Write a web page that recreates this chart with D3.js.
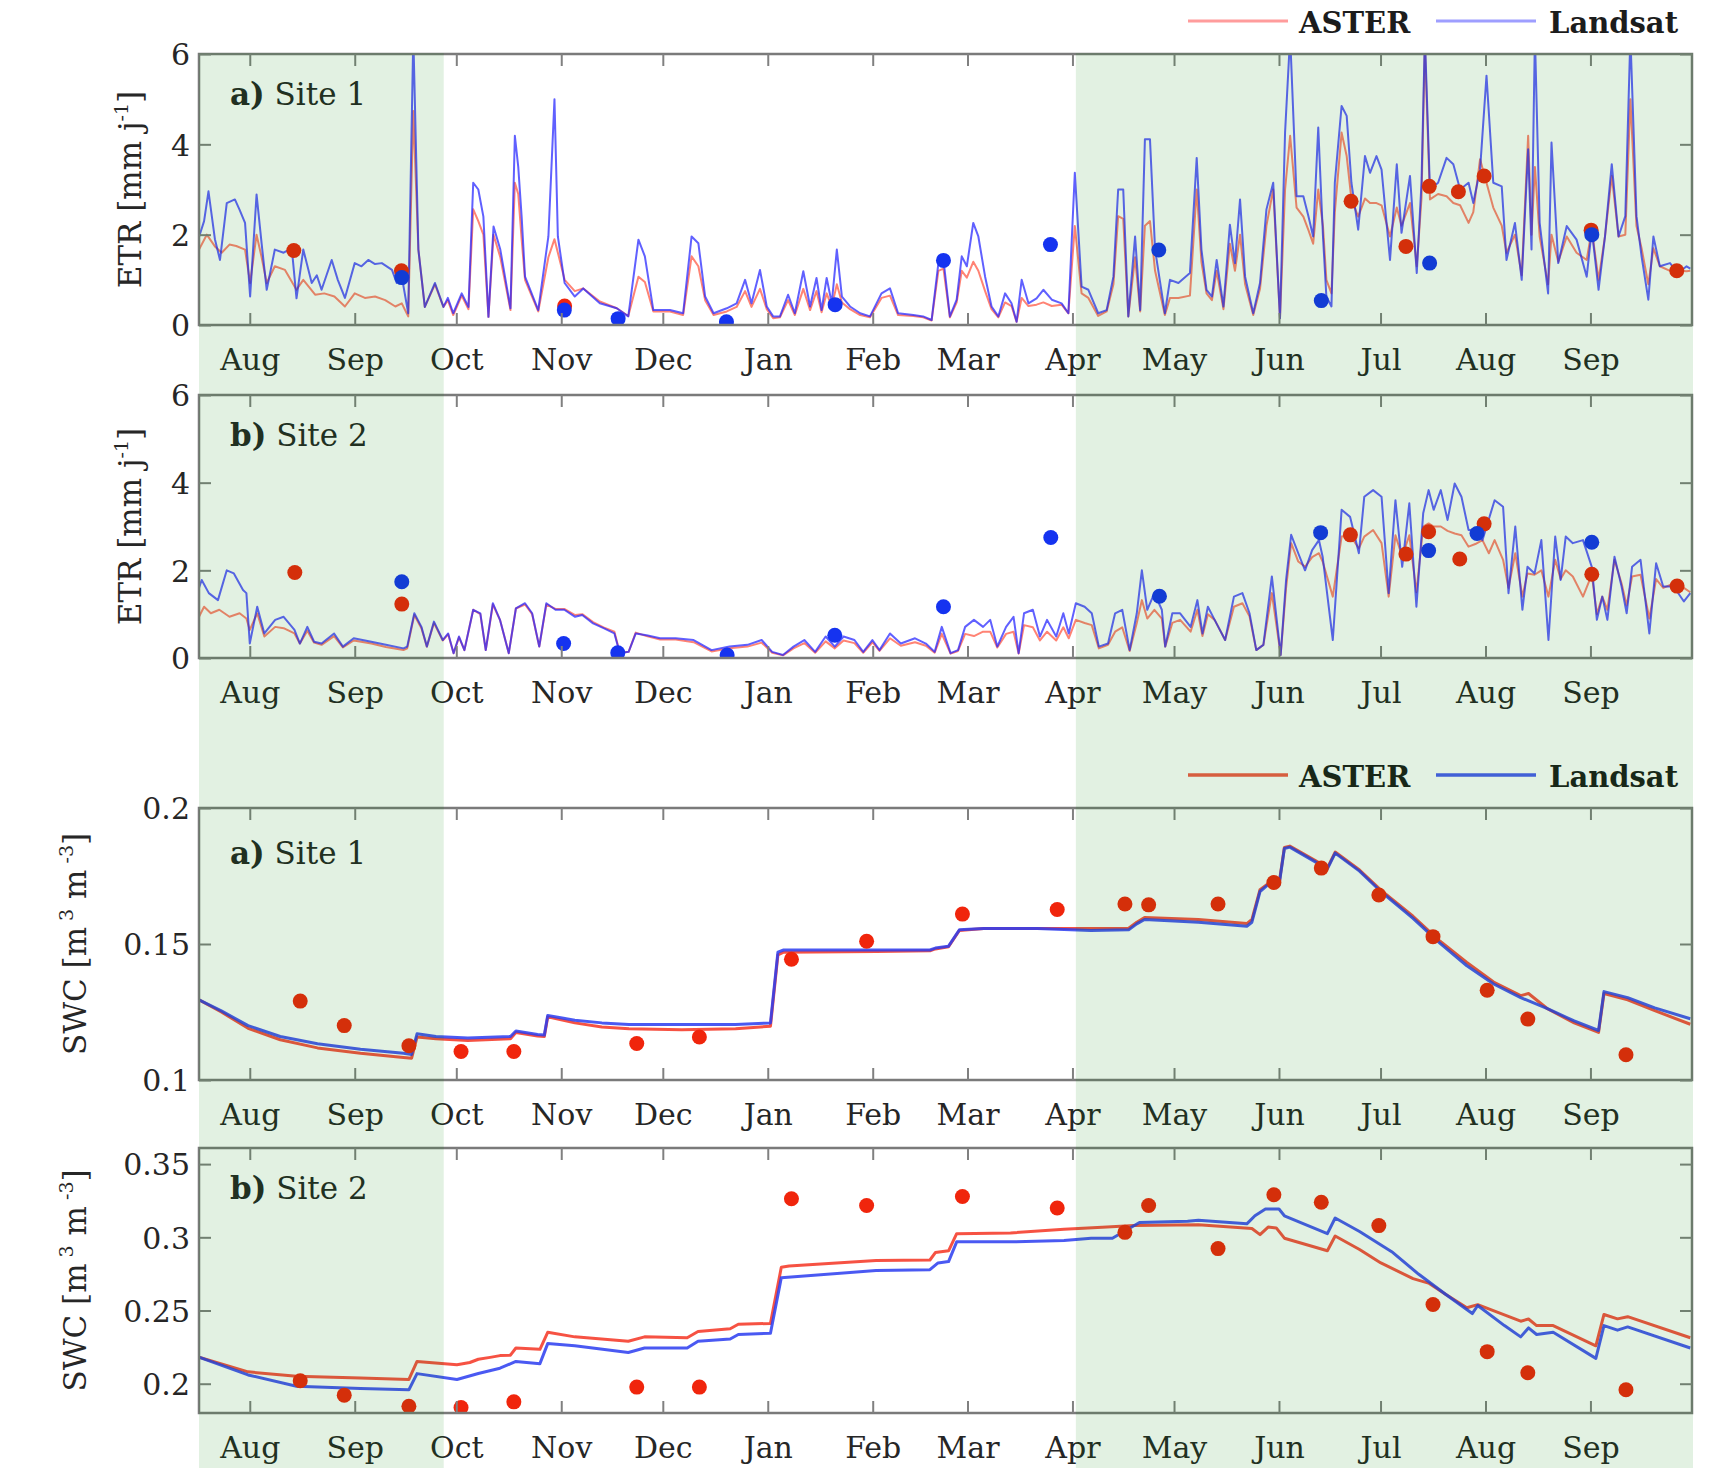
<!DOCTYPE html>
<html>
<head>
<meta charset="utf-8">
<script src="https://cdn.jsdelivr.net/npm/d3@7"></script>
<style>
  html, body { margin: 0; padding: 0; background: #fff; }
  svg { display: block; font-family: "DejaVu Serif", serif; }
</style>
</head>
<body>
<svg id="chart" width="1725" height="1468"></svg>
<script>
// ---- Time frame (day offsets are counted from 17 Jul 2012) ----
const DAY = 864e5;
const seriesStart = Date.UTC(2012, 6, 17);
const axisStart = new Date(Date.UTC(2012, 6, 17));
const axisEnd = new Date(Date.UTC(2013, 9, 1));
const growingSeasons = [["2012-07-17", "2012-09-27"], ["2013-04-02", "2013-10-01"]];

// ---- Tick values ----
const etrTicks = [0, 2, 4, 6];
const swcSite1Ticks = [0.1, 0.15, 0.2];
const swcSite2Ticks = [0.2, 0.25, 0.3, 0.35];
const legendLabels = ["ASTER", "Landsat"];

// ---- ETR, site 1 [day, mm/day] ----
const etrSite1Landsat = [[0,1.95],[1.5,2.3],[2.8,2.96],[4.7,1.9],[6.2,1.44],[8.2,2.7],[10.6,2.78],[12,2.55],[13.6,2.26],[15.1,0.63],[17,2.89],[18.5,1.8],[20,0.78],[22.4,1.67],[25,1.6],[27.4,1.7],[28.8,0.59],[30.8,1.67],[33.3,0.93],[34.8,1.1],[36.2,0.78],[39.2,1.44],[41,1.0],[43.1,0.6],[46,1.37],[48,1.3],[50,1.44],[52,1.35],[54,1.37],[57,1.22],[58.4,0.93],[59.9,1.07],[61.8,0.26],[63.3,6.4],[64.8,1.67],[66.7,0.4],[69.7,0.93],[72.2,0.4],[73.5,0.6],[75.1,0.26],[77.6,0.7],[79.6,0.4],[81,3.15],[82.5,3.0],[84,2.4],[85.5,0.18],[87,2.18],[89,1.67],[92,0.37],[93.3,4.19],[94.3,3.5],[95.3,2.4],[96.3,1.07],[100.2,0.33],[103.2,1.96],[105,5.0],[106,1.96],[108,0.93],[111,0.63],[113.5,0.81],[118.4,0.48],[123.4,0.37],[126.8,0.19],[129.8,1.89],[131.7,1.52],[134.2,0.33],[139.1,0.33],[143,0.26],[145.5,1.96],[147.5,1.81],[149.5,0.63],[152,0.26],[155.9,0.37],[158.8,0.48],[161.3,1.0],[163.2,0.48],[165.7,1.22],[167.7,0.41],[169.6,0.19],[171.6,0.19],[174,0.67],[176,0.26],[178.5,1.19],[180.5,0.41],[182.4,1.04],[183.9,0.33],[185.4,1.04],[186.9,0.48],[188.4,1.67],[189.9,0.63],[192.3,0.41],[195.3,0.26],[198.2,0.19],[201.6,0.7],[204.1,0.81],[206.5,0.26],[211,0.22],[213.9,0.19],[216.4,0.11],[218.4,1.37],[219.9,1.44],[221.8,0.19],[223.8,0.56],[225.3,1.52],[226.8,1.3],[228.7,2.26],[230.2,1.96],[232.2,1.07],[234.1,0.41],[236.1,0.19],[238.1,0.7],[240,0.48],[241.5,0.07],[243,1.0],[245,0.48],[247.4,0.59],[249.4,0.78],[251.9,0.56],[254.8,0.48],[256.8,0.26],[258.7,3.37],[260.7,0.85],[262.7,0.78],[265.6,0.26],[268.1,0.33],[270.1,1.07],[271.5,3.0],[273,3.0],[274.5,0.19],[276.5,1.96],[278,0.33],[279.4,4.11],[280.9,4.11],[282.4,1.67],[285.3,0.26],[286.8,1.0],[289.3,0.93],[292.7,1.15],[294.7,3.7],[296.1,1.67],[297.6,0.78],[299.2,0.63],[300.6,1.44],[302.6,0.41],[304.5,2.22],[306,1.37],[307.5,2.78],[309,1.07],[311.4,0.26],[313.4,0.93],[315.3,2.56],[317.3,3.15],[319.3,0.15],[320.8,4.26],[322.3,6.4],[324.2,2.85],[326.2,2.85],[327.7,2.41],[329.1,1.96],[330.6,4.37],[332,1.96],[333,0.63],[334.5,0.41],[335.5,3.15],[337.5,4.85],[339,4.63],[340.4,3.15],[342.4,2.11],[344.4,3.74],[345.9,3.37],[347.8,3.74],[349.3,3.44],[351.8,1.44],[353.8,3.56],[355.2,2.04],[357.7,3.3],[359.7,1.15],[361.1,3.15],[362.1,6.4],[363.6,3.0],[366,3.15],[368.5,3.7],[370.5,3.56],[372.5,3.0],[375,3.15],[376.4,2.7],[378.4,3.44],[380.3,5.52],[382.3,3.15],[384.8,3.07],[386.2,1.44],[388.7,2.26],[390.7,1.0],[392.6,3.89],[393.6,1.67],[394.6,6.4],[396,2.26],[398.5,0.7],[399.5,4.04],[401.5,1.37],[404,2.19],[406.9,1.89],[409.9,1.07],[411.4,2.11],[413.4,0.78],[415.3,1.96],[417.3,3.56],[419.3,1.96],[421.3,2.41],[422.8,6.4],[424.6,2.41],[426.1,1.52],[428.1,0.56],[429.6,1.96],[431.5,1.3],[434.5,1.37],[436.9,1.15],[439.4,1.3],[440.5,1.25]];
const etrSite1Aster = [[0,1.67],[2.3,2.0],[4.7,1.74],[6.7,1.6],[9,1.78],[11,1.75],[13.6,1.67],[15.1,0.93],[17,2.0],[18.5,1.5],[20,0.93],[22.4,1.3],[25.4,1.22],[28.8,0.78],[30.8,1.0],[34.3,0.67],[37,0.7],[40,0.63],[43.1,0.41],[46,0.7],[49,0.6],[52,0.63],[55,0.55],[58,0.41],[59.9,0.48],[61.8,0.19],[63.3,4.74],[64.8,1.67],[66.7,0.4],[69.7,0.9],[72.2,0.4],[73.5,0.55],[75.1,0.22],[77.6,0.65],[79.6,0.35],[81,2.56],[82.5,2.3],[84,2.0],[85.5,0.18],[87,2.0],[89,1.5],[92,0.33],[93.3,3.15],[94.3,2.9],[95.3,1.9],[96.3,1.0],[100.2,0.3],[103.2,1.5],[105,1.9],[106,1.6],[108,1.0],[111,0.75],[113.5,0.81],[118.4,0.52],[123.4,0.37],[126.8,0.2],[129.8,1.07],[131.7,0.95],[134.2,0.3],[139.1,0.3],[143,0.22],[145.5,1.52],[147.5,1.3],[149.5,0.55],[152,0.22],[155.9,0.3],[158.8,0.4],[161.3,0.75],[163.2,0.4],[165.7,0.8],[167.7,0.35],[169.6,0.15],[171.6,0.17],[174,0.55],[176,0.22],[178.5,0.8],[180.5,0.33],[182.4,0.75],[183.9,0.28],[185.4,0.7],[186.9,0.4],[188.4,0.9],[189.9,0.5],[192.3,0.35],[195.3,0.22],[198.2,0.17],[201.6,0.6],[204.1,0.65],[206.5,0.22],[211,0.2],[213.9,0.17],[216.4,0.1],[218.4,1.2],[219.9,1.25],[221.8,0.17],[223.8,0.5],[225.3,1.2],[226.8,1.05],[228.7,1.4],[230.2,1.2],[232.2,0.75],[234.1,0.35],[236.1,0.17],[238.1,0.5],[240,0.42],[241.5,0.07],[243,0.6],[245,0.42],[247.4,0.45],[249.4,0.5],[251.9,0.42],[254.8,0.45],[256.8,0.26],[258.7,2.19],[260.7,0.7],[262.7,0.6],[265.6,0.2],[268.1,0.3],[270.1,0.9],[271.5,2.41],[273,2.35],[274.5,0.19],[276.5,1.5],[278,0.3],[279.4,2.2],[280.9,2.3],[282.4,1.2],[285.3,0.22],[286.8,0.6],[289.3,0.6],[292.7,0.65],[294.7,3.0],[296.1,1.4],[297.6,0.7],[299.2,0.55],[300.6,1.2],[302.6,0.35],[304.5,1.8],[306,1.2],[307.5,2.0],[309,0.9],[311.4,0.22],[313.4,0.8],[315.3,2.2],[317.3,3.0],[319.3,0.15],[320.8,3.0],[322.3,4.19],[324.2,2.6],[326.2,2.4],[327.7,2.1],[329.1,1.8],[330.6,3.0],[332,2.19],[333,1.0],[334.5,0.7],[335.5,2.5],[337.5,4.26],[339,3.74],[340.4,2.78],[342.4,2.4],[344.4,2.8],[345.9,2.7],[347.8,2.7],[349.3,2.65],[351.8,1.96],[353.8,2.6],[355.2,2.2],[357.7,2.7],[359.7,1.3],[361.1,2.8],[362.1,6.2],[363.6,2.78],[366,2.9],[368.5,2.85],[370.5,2.7],[372.5,2.65],[375,2.26],[376.4,2.5],[378.4,3.67],[380.3,3.15],[382.3,2.6],[384.8,2.2],[386.2,1.6],[388.7,2.0],[390.7,1.1],[392.6,4.19],[393.6,2.0],[394.6,3.5],[396,1.96],[398.5,0.9],[399.5,2.0],[401.5,1.4],[404,1.96],[406.9,1.6],[409.9,1.44],[411.4,2.11],[413.4,1.0],[415.3,1.96],[417.3,3.3],[419.3,1.96],[421.3,2.0],[422.8,5.0],[424.6,2.19],[426.1,1.7],[428.1,0.9],[429.6,1.7],[431.5,1.3],[434.5,1.2],[436.9,1.2],[439.4,1.19],[440.5,1.2]];
const etrSite1AsterObs = [[28,1.65],[59.8,1.2],[108,0.42],[340.3,2.74],[356.5,1.74],[363.4,3.07],[372,2.95],[379.6,3.3],[411.2,2.1],[436.5,1.2]];
const etrSite1LandsatObs = [[59.9,1.05],[107.9,0.33],[123.8,0.14],[155.8,0.07],[187.9,0.45],[219.9,1.43],[251.5,1.78],[283.5,1.66],[331.5,0.54],[363.5,1.37],[411.4,2.0]];

// ---- ETR, site 2 [day, mm/day] ----
const etrSite2Landsat = [[0,1.6],[0.8,1.78],[2.9,1.48],[5.6,1.32],[8.2,2.0],[10.3,1.93],[13,1.55],[14,1.48],[15,0.33],[17.2,1.17],[19.3,0.56],[22.5,0.87],[25,0.94],[28.2,0.64],[29.8,0.33],[32,0.71],[34,0.37],[36.2,0.33],[39.9,0.56],[42.5,0.26],[45.7,0.45],[50.9,0.37],[55.2,0.3],[60.4,0.22],[61.5,0.26],[63.6,1.02],[65.7,0.71],[67.3,0.26],[69.4,0.83],[72,0.41],[73.6,0.56],[75.2,0.11],[76.8,0.49],[78.4,0.18],[81,1.1],[83.1,1.02],[84.7,0.18],[86.8,1.25],[88.9,0.87],[91.5,0.11],[93.6,1.13],[96.3,1.25],[98.4,1.02],[100.5,0.26],[102.6,1.25],[105.3,1.1],[107.9,1.1],[111.1,0.94],[113.2,0.98],[116.4,0.79],[119.5,0.68],[122.7,0.56],[124.3,0.11],[126.9,0.14],[129,0.56],[132.2,0.52],[136.2,0.45],[140.8,0.45],[146.1,0.41],[151.4,0.18],[156.7,0.26],[162,0.3],[166.2,0.41],[169.3,0.14],[172.5,0.07],[175.6,0.26],[178.8,0.41],[182,0.14],[185.1,0.49],[187.8,0.26],[190.4,0.49],[193.6,0.41],[196.2,0.14],[198.9,0.41],[201,0.18],[204.1,0.56],[207.3,0.33],[211.5,0.45],[214.7,0.33],[217.3,0.14],[219.4,0.71],[222,0.11],[224.2,0.18],[226.3,0.71],[228.9,0.87],[231.6,0.71],[233.7,0.87],[235.8,0.26],[238.4,0.71],[240.6,0.94],[242.1,0.11],[243.7,1.02],[246.3,1.1],[248.4,0.49],[250.5,0.87],[253.2,0.49],[255.3,1.02],[256.9,0.56],[259,1.25],[261.6,1.17],[263.7,1.02],[265.8,0.26],[268.5,0.33],[270.6,1.02],[272.7,1.1],[274.9,0.18],[277,1.02],[278.5,2.0],[280.1,1.1],[282.2,1.48],[284.4,1.1],[285.4,0.26],[287.5,1.02],[289.8,1.02],[292.9,0.71],[294.9,1.32],[296.4,0.56],[298,1.17],[300,0.87],[303.1,0.41],[305.7,1.4],[308.2,1.48],[310.3,1.02],[312.3,0.18],[314.4,0.3],[316.9,1.86],[319.5,0.07],[321.1,1.78],[322.6,2.81],[324.7,2.39],[326.7,2.0],[328.8,2.46],[330.8,2.69],[331.9,2.31],[334.9,0.41],[337.5,3.38],[340,3.22],[342.6,2.39],[344.2,3.68],[346.8,3.83],[349.3,3.68],[351.4,1.48],[353.4,3.6],[355.4,2.08],[357.5,3.53],[359.6,1.17],[361.6,3.3],[363.2,3.83],[364.7,3.38],[366.8,3.83],[368.8,3.15],[370.9,3.98],[372.9,3.68],[375,2.92],[377,2.92],[379.1,2.69],[382.7,3.6],[385.2,3.45],[386.8,1.48],[388.8,3.0],[390.9,1.1],[392.4,2.08],[394.5,1.93],[396.5,2.69],[398.6,0.41],[400.6,2.77],[402.2,1.78],[403.7,2.77],[405.8,2.62],[408.8,2.69],[411.4,2.08],[412.9,0.87],[414.5,1.4],[416,0.87],[418.1,2.31],[420.2,1.63],[421.7,1.02],[423.3,2.08],[425.8,2.24],[428.4,0.56],[430.4,2.16],[432.5,1.63],[435.6,1.63],[438.6,1.29],[440.5,1.48]];
const etrSite2Aster = [[0,0.94],[1.5,1.17],[3.5,1.02],[6,1.1],[9,0.94],[12,1.02],[14,0.9],[15,0.64],[17.2,1.02],[19.3,0.49],[22.5,0.71],[25,0.68],[28.2,0.56],[29.8,0.33],[32,0.62],[34,0.35],[36.2,0.3],[39.9,0.5],[42.5,0.24],[45.7,0.4],[50.9,0.33],[55.2,0.25],[60.4,0.18],[61.5,0.22],[63.6,0.98],[65.7,0.68],[67.3,0.26],[69.4,0.8],[72,0.4],[73.6,0.54],[75.2,0.11],[76.8,0.47],[78.4,0.18],[81,1.1],[83.1,1.0],[84.7,0.18],[86.8,1.22],[88.9,0.87],[91.5,0.11],[93.6,1.13],[96.3,1.22],[98.4,1.0],[100.5,0.26],[102.6,1.22],[105.3,1.12],[107.9,1.12],[111.1,0.98],[113.2,1.0],[116.4,0.82],[119.5,0.7],[122.7,0.6],[124.3,0.12],[126.9,0.14],[129,0.58],[132.2,0.5],[136.2,0.42],[140.8,0.42],[146.1,0.36],[151.4,0.15],[156.7,0.22],[162,0.26],[166.2,0.35],[169.3,0.12],[172.5,0.06],[175.6,0.22],[178.8,0.34],[182,0.12],[185.1,0.38],[187.8,0.22],[190.4,0.4],[193.6,0.34],[196.2,0.12],[198.9,0.36],[201,0.16],[204.1,0.45],[207.3,0.28],[211.5,0.36],[214.7,0.28],[217.3,0.12],[219.4,0.55],[222,0.1],[224.2,0.16],[226.3,0.55],[228.9,0.5],[231.6,0.6],[233.7,0.6],[235.8,0.24],[238.4,0.55],[240.6,0.6],[242.1,0.1],[243.7,0.75],[246.3,0.7],[248.4,0.4],[250.5,0.6],[253.2,0.4],[255.3,0.7],[256.9,0.45],[259,0.87],[261.6,0.8],[263.7,0.75],[265.8,0.22],[268.5,0.3],[270.6,0.6],[272.7,0.7],[274.9,0.16],[277,0.8],[278.5,1.32],[280.1,0.9],[282.2,1.1],[284.4,0.9],[285.4,0.26],[287.5,0.8],[289.8,0.87],[292.9,0.6],[294.9,1.1],[296.4,0.5],[298,1.0],[300,0.87],[303.1,0.41],[305.7,1.17],[308.2,1.25],[310.3,0.95],[312.3,0.18],[314.4,0.3],[316.9,1.48],[319.5,0.07],[321.1,1.6],[322.6,2.62],[324.7,2.2],[326.7,2.08],[328.8,2.3],[330.8,2.39],[331.9,2.2],[334.9,1.4],[337.5,2.77],[340,2.8],[342.6,2.5],[344.2,2.77],[346.8,2.92],[349.3,2.62],[351.4,1.4],[353.4,2.8],[355.4,2.31],[357.5,2.8],[359.6,1.5],[361.6,3.0],[363.2,3.07],[364.7,3.0],[366.8,3.0],[368.8,2.9],[370.9,2.84],[372.9,2.8],[375,2.54],[377,2.6],[379.1,2.69],[381,2.39],[382.7,2.69],[385.2,2.24],[386.8,1.6],[388.8,2.39],[390.9,1.4],[392.4,1.93],[394.5,1.9],[396.5,2.0],[398.6,1.4],[400.6,2.24],[402.2,1.8],[403.7,2.0],[405.8,1.86],[408.8,1.4],[411.4,1.9],[412.9,1.0],[414.5,1.4],[416,1.1],[418.1,2.24],[420.2,1.7],[421.7,1.2],[423.3,1.86],[425.8,1.9],[428.4,0.9],[430.4,1.8],[432.5,1.6],[435.6,1.7],[438.6,1.6],[440.5,1.5]];
const etrSite2AsterObs = [[28.3,1.95],[59.9,1.23],[340.1,2.81],[356.5,2.37],[363.2,2.88],[372.4,2.26],[379.6,3.06],[411.4,1.91],[436.6,1.64]];
const etrSite2LandsatObs = [[59.9,1.74],[107.7,0.33],[123.7,0.12],[156,0.07],[187.8,0.52],[219.9,1.17],[251.6,2.75],[283.7,1.41],[331.3,2.86],[363.2,2.45],[377.5,2.84],[411.4,2.64]];

// ---- Soil water content, site 1 [day, m3/m3] ----
const swcSite1Landsat = [[0,0.1295],[6.6,0.1254],[14.5,0.120],[24,0.116],[35,0.1133],[47.7,0.1113],[60.4,0.1098],[62.8,0.1094],[64.4,0.117],[70,0.116],[79.4,0.1154],[92,0.116],[93.6,0.118],[100,0.1167],[102,0.1165],[103,0.1237],[111,0.122],[119,0.121],[127,0.1204],[142.6,0.1204],[158.5,0.1204],[168.8,0.121],[171,0.147],[172.7,0.1478],[200,0.1478],[215.9,0.1478],[217.5,0.1485],[221.4,0.1492],[224.6,0.1552],[231.8,0.1557],[247.6,0.1557],[263.5,0.155],[274.6,0.1552],[277,0.1574],[279.3,0.159],[295.2,0.158],[309.5,0.1565],[311,0.158],[313.4,0.1693],[315.8,0.1718],[317.5,0.171],[319,0.1715],[320.6,0.1851],[322.2,0.1856],[330,0.180],[333.3,0.1776],[335.6,0.1834],[342.8,0.1768],[349.1,0.1693],[358.6,0.1594],[366.6,0.1502],[374.5,0.142],[382.4,0.1353],[390.4,0.1303],[398.3,0.1262],[406.2,0.1217],[413.4,0.1182],[415,0.1325],[422,0.1303],[430,0.1265],[440.5,0.1225]];
const swcSite1Aster = [[0,0.1295],[6.6,0.125],[14.5,0.119],[24,0.1148],[35,0.1118],[47.7,0.1098],[60.4,0.1083],[62.8,0.108],[64.4,0.1158],[70,0.1152],[79.4,0.1145],[92,0.1152],[93.6,0.1175],[100,0.1162],[102,0.116],[103,0.1232],[111,0.121],[119,0.1195],[127,0.1188],[142.6,0.1185],[158.5,0.1188],[168.8,0.1198],[171,0.146],[172.7,0.147],[200,0.1472],[215.9,0.1475],[217.5,0.1482],[221.4,0.149],[224.6,0.155],[231.8,0.1557],[247.6,0.1557],[263.5,0.1557],[274.6,0.1558],[277,0.158],[279.3,0.1597],[295.2,0.159],[309.5,0.1575],[311,0.159],[313.4,0.17],[315.8,0.1722],[317.5,0.1715],[319,0.172],[320.6,0.1855],[322.2,0.186],[330,0.1805],[333.3,0.178],[335.6,0.1838],[342.8,0.1772],[349.1,0.1698],[358.6,0.1602],[366.6,0.151],[374.5,0.1432],[382.4,0.136],[390.4,0.131],[392.7,0.1318],[398.3,0.1262],[406.2,0.121],[413.4,0.1175],[415,0.1318],[422,0.1295],[430,0.1255],[440.5,0.1205]];
const swcSite1Obs = [[29.9,0.129],[42.9,0.12],[62,0.1126],[77.4,0.1105],[93,0.1105],[129.3,0.1134],[147.8,0.1158],[175,0.1444],[197.2,0.151],[225.5,0.161],[253.5,0.1627],[273.5,0.1647],[280.5,0.1644],[301,0.1647],[317.5,0.1726],[331.5,0.1779],[348.5,0.168],[364.5,0.1527],[380.5,0.133],[392.5,0.1224],[421.5,0.1093]];

// ---- Soil water content, site 2 [day, m3/m3] ----
const swcSite2Landsat = [[0,0.2182],[14.5,0.206],[28.8,0.1983],[47.7,0.1968],[62,0.1959],[64.4,0.2069],[76.2,0.2029],[82.5,0.207],[88.9,0.2106],[93.6,0.2152],[100.7,0.2137],[103,0.2274],[111,0.2259],[126.8,0.2213],[131.6,0.2244],[144.2,0.2244],[147.4,0.229],[156.9,0.2305],[159.3,0.2336],[168.8,0.2345],[172,0.2724],[200,0.2773],[215.9,0.2779],[218.3,0.2825],[221.4,0.2834],[223.8,0.2969],[239.7,0.2969],[255.5,0.2979],[263.5,0.2994],[269.8,0.2994],[277.8,0.3101],[292,0.311],[295.2,0.3116],[309.5,0.3092],[311.9,0.3147],[315,0.3193],[319,0.3193],[320.6,0.3147],[333.3,0.3025],[335.6,0.3132],[342.8,0.304],[352.3,0.2902],[360.2,0.2749],[368.2,0.2611],[376.1,0.2479],[377.7,0.2534],[385.6,0.2397],[390.4,0.232],[392.7,0.2381],[395.1,0.2336],[400,0.2351],[412.6,0.2173],[415,0.2397],[419,0.2366],[422,0.2388],[440.5,0.2244]];
const swcSite2Aster = [[0,0.2182],[14.5,0.2081],[28.8,0.2051],[47.7,0.2039],[62,0.2029],[64.4,0.2152],[76.2,0.213],[80,0.2145],[82.5,0.2167],[86,0.218],[88.9,0.2192],[92,0.2195],[93.6,0.2244],[100.7,0.2235],[103,0.2351],[111,0.232],[126.8,0.229],[131.6,0.232],[144.2,0.2314],[147.4,0.2357],[156.9,0.2375],[159.3,0.2406],[168.8,0.2412],[172,0.2795],[174.3,0.2804],[200,0.2841],[215.9,0.2845],[217.5,0.2896],[221.4,0.2908],[223.8,0.3025],[239.7,0.303],[255.5,0.3055],[268.2,0.307],[276.2,0.308],[295.2,0.3086],[311,0.306],[313.4,0.3018],[315.8,0.307],[318.2,0.3064],[320.6,0.2994],[333.3,0.2908],[335.6,0.3009],[342.8,0.2917],[349.1,0.2825],[358.6,0.2718],[363.4,0.2685],[368.2,0.2611],[374.5,0.2519],[377.7,0.254],[390.4,0.2427],[392.7,0.2442],[395.1,0.2397],[400,0.2397],[412.6,0.2259],[415,0.2473],[419,0.2443],[422,0.2458],[440.5,0.2314]];
const swcSite2Obs = [[29.9,0.202],[42.9,0.1922],[62,0.1846],[77.4,0.1837],[93,0.1876],[129.3,0.1977],[147.8,0.1977],[175,0.3263],[197.2,0.3217],[225.5,0.3279],[253.5,0.32],[273.5,0.3034],[280.5,0.3217],[301,0.2923],[317.5,0.3291],[331.5,0.3239],[348.5,0.308],[364.5,0.2541],[380.5,0.2219],[392.5,0.2075],[421.5,0.1959]];

// ---- Drawing ----
const svg = d3.select("#chart");
const FONT = '"DejaVu Serif", serif';
const toDate = d => new Date(seriesStart + d * DAY);
const left = 199, right = 1692;
const x = d3.scaleUtc().domain([axisStart, axisEnd]).range([left, right]);
const monthTicks = d3.utcMonth.range(new Date(Date.UTC(2012, 7, 1)), axisEnd);
const textColor = "#262626";
const swcFmt = d => String(+d.toFixed(2));

const panels = [
  { top: 54, bottom: 325, domain: [0, 6], ticks: etrTicks, fmt: d3.format("d"),
    tag: "a)", site: " Site 1", labelDy: 51, kind: "etr", titleX: 141,
    aster: etrSite1Aster, landsat: etrSite1Landsat, asterObs: etrSite1AsterObs, landsatObs: etrSite1LandsatObs, lw: 2 },
  { top: 395, bottom: 658, domain: [0, 6], ticks: etrTicks, fmt: d3.format("d"),
    tag: "b)", site: " Site 2", labelDy: 51, kind: "etr", titleX: 141,
    aster: etrSite2Aster, landsat: etrSite2Landsat, asterObs: etrSite2AsterObs, landsatObs: etrSite2LandsatObs, lw: 2 },
  { top: 808, bottom: 1080, domain: [0.1, 0.2], ticks: swcSite1Ticks, fmt: swcFmt,
    tag: "a)", site: " Site 1", labelDy: 56, kind: "swc", titleX: 86,
    aster: swcSite1Aster, landsat: swcSite1Landsat, asterObs: swcSite1Obs, landsatObs: [], lw: 3 },
  { top: 1148, bottom: 1413, domain: [0.18, 0.361], ticks: swcSite2Ticks, fmt: swcFmt,
    tag: "b)", site: " Site 2", labelDy: 51, kind: "swc", titleX: 86,
    aster: swcSite2Aster, landsat: swcSite2Landsat, asterObs: swcSite2Obs, landsatObs: [], lw: 3 }
];

const styleAxis = (g) => {
  g.attr("font-family", FONT).attr("font-size", 30);
  g.select(".domain").remove();
  g.selectAll(".tick line").attr("stroke", "#808080").attr("stroke-width", 2);
  g.selectAll(".tick text").attr("fill", textColor);
};

panels.forEach((p, i) => {
  const y = d3.scaleLinear().domain(p.domain).range([p.bottom, p.top]);
  const g = svg.append("g");
  const clipId = "clip" + i;
  svg.append("clipPath").attr("id", clipId)
    .append("rect").attr("x", left).attr("y", p.top).attr("width", right - left).attr("height", p.bottom - p.top);

  const line = d3.line().x(d => x(toDate(d[0]))).y(d => y(d[1]));
  const plot = g.append("g").attr("clip-path", `url(#${clipId})`);
  const etr = p.kind === "etr";
  plot.append("path").datum(p.aster).attr("d", line).attr("fill", "none")
    .attr("stroke", etr ? "#ff3018" : "#f43422").attr("stroke-opacity", etr ? 0.6 : 0.85)
    .attr("stroke-width", p.lw).attr("stroke-linejoin", "round");
  plot.append("path").datum(p.landsat).attr("d", line).attr("fill", "none")
    .attr("stroke", etr ? "#2222ff" : "#2a3cf0").attr("stroke-opacity", etr ? 0.72 : 0.85)
    .attr("stroke-width", p.lw).attr("stroke-linejoin", "round");

  plot.selectAll(".obsA").data(p.asterObs).join("circle")
    .attr("cx", d => x(toDate(d[0]))).attr("cy", d => y(d[1])).attr("r", 7.5).attr("fill", "#f0250c");
  plot.selectAll(".obsL").data(p.landsatObs).join("circle")
    .attr("cx", d => x(toDate(d[0]))).attr("cy", d => y(d[1])).attr("r", 7.5).attr("fill", "#1533f0");

  // frame
  g.append("rect").attr("x", left).attr("y", p.top).attr("width", right - left).attr("height", p.bottom - p.top)
    .attr("fill", "none").attr("stroke", "#7a7a7a").attr("stroke-width", 2.5);

  // month axes (ticks point inward)
  const bottomAxis = g.append("g").attr("transform", `translate(0,${p.bottom})`)
    .call(d3.axisBottom(x).tickValues(monthTicks).tickSize(-12).tickSizeOuter(0).tickFormat(d3.utcFormat("%b")));
  styleAxis(bottomAxis);
  bottomAxis.selectAll(".tick text").attr("y", 45).attr("dy", 0);
  const topAxis = g.append("g").attr("transform", `translate(0,${p.top})`)
    .call(d3.axisTop(x).tickValues(monthTicks).tickSize(-12).tickSizeOuter(0).tickFormat(""));
  styleAxis(topAxis);

  // value axes
  const leftAxis = g.append("g").attr("transform", `translate(${left},0)`)
    .call(d3.axisLeft(y).tickValues(p.ticks).tickSize(-12).tickSizeOuter(0).tickFormat(p.fmt));
  styleAxis(leftAxis);
  leftAxis.selectAll(".tick text").attr("x", -9).attr("dy", "0.36em");
  const rightAxis = g.append("g").attr("transform", `translate(${right},0)`)
    .call(d3.axisRight(y).tickValues(p.ticks).tickSize(-12).tickSizeOuter(0).tickFormat(""));
  styleAxis(rightAxis);

  // panel tag
  const tag = g.append("text").attr("x", 230).attr("y", p.top + p.labelDy)
    .attr("font-size", 31).attr("fill", textColor);
  tag.append("tspan").attr("font-weight", "bold").text(p.tag);
  tag.append("tspan").text(p.site);

  // axis title
  const cy = (p.top + p.bottom) / 2;
  const t = g.append("text").attr("transform", `translate(${p.titleX},${cy}) rotate(-90)`)
    .attr("text-anchor", "middle").attr("font-size", 31).attr("fill", textColor);
  if (etr) {
    t.append("tspan").text("ETR [mm j");
    t.append("tspan").attr("font-size", 19).attr("dy", -13).text("-1");
    t.append("tspan").attr("dy", 13).text("]");
  } else {
    t.append("tspan").text("SWC [m");
    t.append("tspan").attr("font-size", 19).attr("dy", -13).text(" 3");
    t.append("tspan").attr("dy", 13).text(" m");
    t.append("tspan").attr("font-size", 19).attr("dy", -13).text(" -3");
    t.append("tspan").attr("dy", 13).text("]");
  }
});

// legends
function legend(yLine, faint) {
  const g = svg.append("g");
  const items = [
    { x0: 1188, tx: 1299, color: faint ? "#ff9c9c" : "#f25a48", label: legendLabels[0] },
    { x0: 1436, tx: 1549, color: faint ? "#9e9eff" : "#4a5cf2", label: legendLabels[1] }
  ];
  items.forEach(it => {
    g.append("line").attr("x1", it.x0).attr("x2", it.x0 + 100).attr("y1", yLine).attr("y2", yLine)
      .attr("stroke", it.color).attr("stroke-width", faint ? 3 : 3.5);
    g.append("text").attr("x", it.tx).attr("y", yLine + 12).attr("font-size", 29).attr("font-weight", "bold")
      .attr("fill", "#1c1c1c").text(it.label);
  });
}
legend(21, true);
legend(775, false);

// growing-season shading laid over the panels
const parse = d3.utcParse("%Y-%m-%d");
svg.append("g").selectAll("rect").data(growingSeasons).join("rect")
  .attr("x", d => x(parse(d[0])))
  .attr("width", d => x(parse(d[1])) - x(parse(d[0])) + 1)
  .attr("y", 53).attr("height", 1468 - 53)
  .attr("fill", "rgb(0,130,0)").attr("fill-opacity", 0.115)
  .style("pointer-events", "none");
</script>
</body>
</html>
